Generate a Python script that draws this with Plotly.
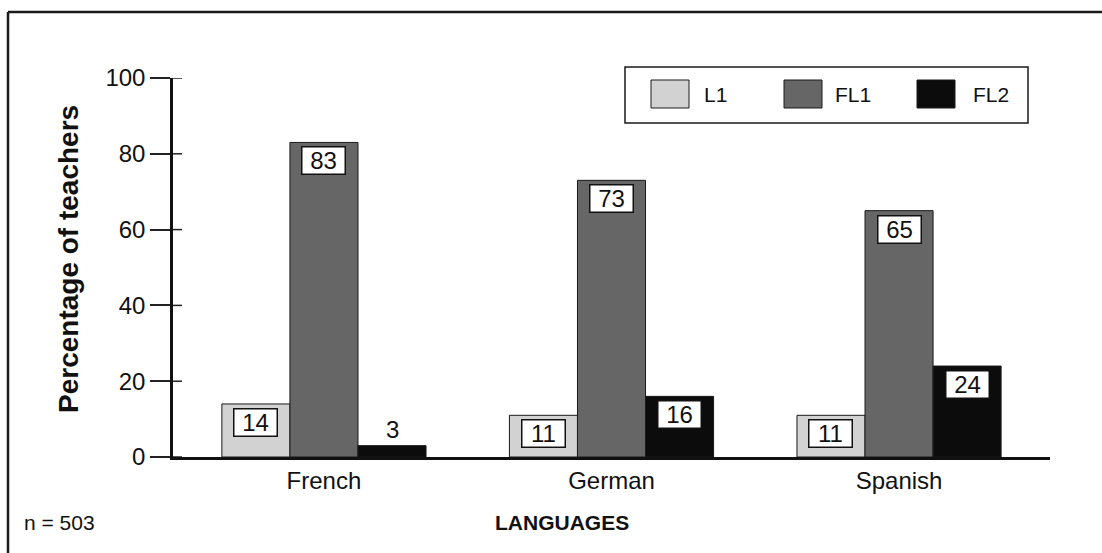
import plotly.graph_objects as go

# ---- data ----
categories = ["French", "German", "Spanish"]
series_names = ["L1", "FL1", "FL2"]
l1_values = [14, 11, 11]
fl1_values = [83, 73, 65]
fl2_values = [3, 16, 24]
y_ticks = [0, 20, 40, 60, 80, 100]
y_title = "Percentage of teachers"
x_title = "LANGUAGES"
note_text = "n = 503"

series_values = [l1_values, fl1_values, fl2_values]
colors = ["#d2d2d2", "#666666", "#0c0c0c"]

W, H = 1102, 553
ML, MR, MT, MB = 173, 52, 78, 96
PW, PH = W - ML - MR, H - MT - MB
FONT = "Liberation Sans, Arial, Helvetica, sans-serif"


def px(x):
    return (x - ML) / PW


def py(y):
    return (H - MB - y) / PH


bargap = 0.29
bar_w = (1 - bargap) / len(series_names)

fig = go.Figure()
for name, vals, col in zip(series_names, series_values, colors):
    fig.add_trace(go.Bar(
        x=categories, y=vals, name=name,
        marker=dict(color=col, line=dict(color="#1a1a1a", width=1)),
        showlegend=False,
    ))

annotations = []
# value labels
for j, vals in enumerate(series_values):
    offset = (j - (len(series_names) - 1) / 2) * bar_w
    for i, v in enumerate(vals):
        if v < 8:
            annotations.append(dict(
                x=i + offset, y=v, xref="x", yref="y", text=str(v),
                showarrow=False, yanchor="bottom", yshift=1,
                font=dict(family=FONT, size=24, color="#111")))
        else:
            annotations.append(dict(
                x=i + offset, y=v, xref="x", yref="y", text=str(v),
                showarrow=False, yanchor="top", yshift=-4,
                width=38, height=22, align="center", valign="middle",
                bgcolor="white", bordercolor="#111", borderwidth=1.5, borderpad=2,
                font=dict(family=FONT, size=24, color="#111")))

# axis title, x title, note
annotations.append(dict(x=px(68), y=py(259), xref="paper", yref="paper", text=y_title,
                        textangle=-90, showarrow=False, xanchor="center", yanchor="middle",
                        font=dict(family=FONT, size=28, color="#111", weight="bold")))
annotations.append(dict(x=px(562), y=py(522), xref="paper", yref="paper", text=x_title,
                        showarrow=False, xanchor="center", yanchor="middle",
                        font=dict(family=FONT, size=21, color="#111", weight="bold")))
annotations.append(dict(x=px(22), y=py(522), xref="paper", yref="paper", text=note_text,
                        showarrow=False, xanchor="left", yanchor="middle",
                        font=dict(family=FONT, size=21, color="#111")))

shapes = []
# inner part of the crossing y ticks
for t in y_ticks:
    shapes.append(dict(type="line", xref="paper", yref="y", x0=0, x1=9 / PW, y0=t, y1=t,
                       line=dict(color="#222", width=1.5)))
# outer frame (top and left edges)
shapes.append(dict(type="line", xref="paper", yref="paper", x0=px(8), x1=px(W + 5),
                   y0=py(12), y1=py(12), line=dict(color="#1a1a1a", width=2.5)))
shapes.append(dict(type="line", xref="paper", yref="paper", x0=px(8), x1=px(8),
                   y0=py(12), y1=py(H + 5), line=dict(color="#1a1a1a", width=2.5)))

# custom legend
shapes.append(dict(type="rect", xref="paper", yref="paper", x0=px(625), x1=px(1028),
                   y0=py(67), y1=py(123), line=dict(color="#1a1a1a", width=1.5),
                   fillcolor="white"))
swatch_x = [651, 784, 917]
text_x = [702, 833, 971]
for name, col, sx, tx in zip(series_names, colors, swatch_x, text_x):
    shapes.append(dict(type="rect", xref="paper", yref="paper", x0=px(sx), x1=px(sx + 38),
                       y0=py(80), y1=py(108), line=dict(color="#1a1a1a", width=1),
                       fillcolor=col))
    annotations.append(dict(x=px(tx), y=py(94), xref="paper", yref="paper", text=name,
                            showarrow=False, xanchor="left", yanchor="middle",
                            font=dict(family=FONT, size=21, color="#111")))

fig.update_layout(
    width=W, height=H, autosize=False,
    margin=dict(l=ML, r=MR, t=MT, b=MB),
    paper_bgcolor="white", plot_bgcolor="white",
    barmode="group", bargap=bargap, bargroupgap=0,
    font=dict(family=FONT, color="#111"),
    xaxis=dict(type="category", range=[-0.525, 2.525], showline=True, linewidth=3,
               linecolor="#111", ticks="", showgrid=False, zeroline=False,
               tickfont=dict(family=FONT, size=24, color="#111")),
    yaxis=dict(range=[0, 100], tickvals=y_ticks, ticks="outside", ticklen=20, tickwidth=1.5,
               tickcolor="#222", showline=True, linewidth=2.5, linecolor="#111",
               showgrid=False, zeroline=False,
               tickfont=dict(family=FONT, size=24, color="#111")),
    annotations=annotations, shapes=shapes,
    showlegend=False,
)

fig.write_html("out.html", config={"displayModeBar": False},
               post_script="document.body.style.margin='0';")
